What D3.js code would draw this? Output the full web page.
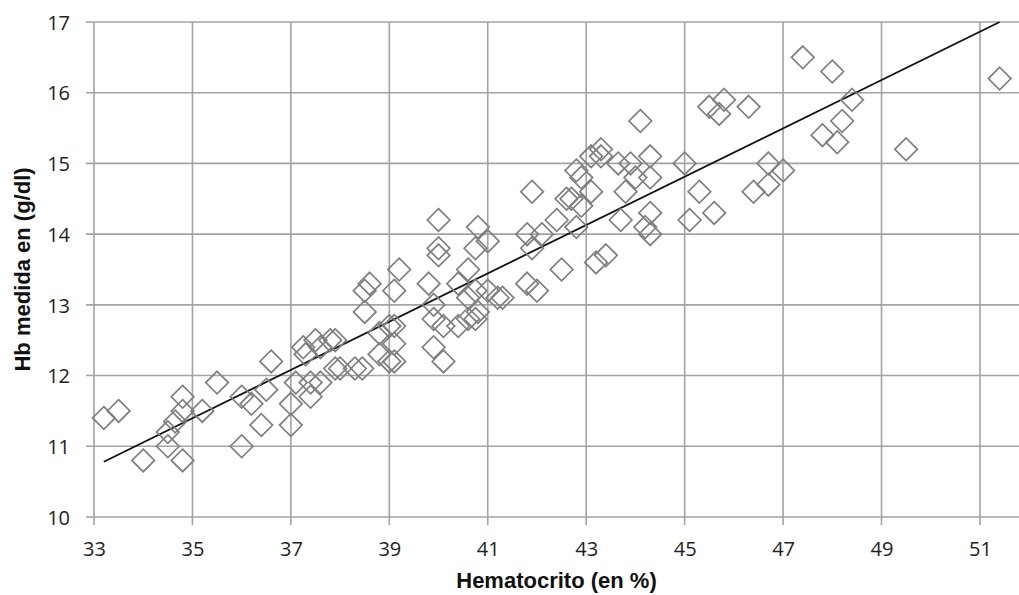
<!DOCTYPE html>
<html>
<head>
<meta charset="utf-8">
<script src="https://cdn.jsdelivr.net/npm/d3@7"></script>
<style>
  body { margin: 0; background: #fff; }
  .tick text { font-family: "Open Sans", sans-serif; font-size: 20px; fill: #222; }
  .aText { font-family: "Liberation Sans", Arial, sans-serif; font-weight: bold; font-size: 22px; fill: #111; }
</style>
</head>
<body>
<div id="scatter"></div>
<script>
// Hematocrito (%) vs Hb medida (g/dl)
var hematocrito = [33.2, 33.5, 34.0, 34.5, 34.5, 34.65, 34.8, 34.8, 34.8, 35.2,
  35.5, 36.0, 36.0, 36.2, 36.4, 36.5, 36.6, 37.0, 37.0, 37.1,
  37.25, 37.4, 37.4, 37.3, 37.5, 37.6, 37.6, 37.8, 37.9, 37.9,
  38.0, 38.3, 38.45, 38.5, 38.5, 38.6, 38.8, 38.8, 39.0, 39.0,
  39.1, 39.1, 39.1, 39.1, 39.2, 39.8, 39.9, 39.9, 39.9, 40.0,
  40.0, 40.0, 40.1, 40.1, 40.4, 40.4, 40.6, 40.6, 40.6, 40.75,
  40.8, 40.75, 40.75, 40.8, 41.0, 41.0, 41.2, 41.3, 41.8, 41.8,
  41.9, 41.9, 42.0, 42.1, 42.4, 42.5, 42.6, 42.7, 42.8, 42.8,
  42.9, 42.9, 43.1, 43.1, 43.3, 43.3, 43.2, 43.4, 43.65, 43.7,
  43.8, 43.9, 44.0, 44.1, 44.2, 44.3, 44.3, 44.3, 44.3, 45.0,
  45.1, 45.3, 45.5, 45.6, 45.7, 45.8, 46.3, 46.4, 46.7, 46.7,
  47.0, 47.4, 47.8, 48.0, 48.1, 48.2, 48.4, 49.5, 51.4];

var hbMedida = [11.4, 11.5, 10.8, 11.0, 11.2, 11.35, 11.7, 11.5, 10.8, 11.5,
  11.9, 11.7, 11.0, 11.6, 11.3, 11.8, 12.2, 11.3, 11.6, 11.9,
  12.4, 11.7, 11.9, 12.3, 12.5, 11.9, 12.4, 12.5, 12.5, 12.1,
  12.1, 12.1, 12.1, 12.9, 13.2, 13.3, 12.6, 12.3, 12.7, 12.2,
  12.2, 12.45, 12.7, 13.2, 13.5, 13.3, 13.0, 12.8, 12.4, 13.8,
  13.7, 14.2, 12.7, 12.2, 12.7, 13.3, 13.5, 13.1, 12.8, 12.8,
  12.9, 13.2, 13.8, 14.1, 13.9, 13.2, 13.1, 13.1, 13.3, 14.0,
  14.6, 13.8, 13.2, 14.0, 14.2, 13.5, 14.5, 14.5, 14.1, 14.9,
  14.8, 14.4, 15.1, 14.6, 15.2, 15.1, 13.6, 13.7, 15.0, 14.2,
  14.6, 15.0, 14.8, 15.6, 14.1, 15.1, 14.8, 14.3, 14.0, 15.0,
  14.2, 14.6, 15.8, 14.3, 15.7, 15.9, 15.8, 14.6, 15.0, 14.7,
  14.9, 16.5, 15.4, 16.3, 15.3, 15.6, 15.9, 15.2, 16.2];

// linear trend line endpoints
var trendX = [33.2, 51.4];
var trendY = [10.78, 17.0];

var xTicks = [33, 35, 37, 39, 41, 43, 45, 47, 49, 51];
var yTicks = [10, 11, 12, 13, 14, 15, 16, 17];

var svgWidth = 1019;
var svgHeight = 595;

var margin = { top: 22, left: 94 };
var pxPerX = 49.22;
var pxPerY = 70.71;

var svg = d3.select("#scatter")
  .append("svg")
  .attr("width", svgWidth)
  .attr("height", svgHeight);

var xScale = d3.scaleLinear()
  .domain([33, 53])
  .range([margin.left, margin.left + 20 * pxPerX]);

var yScale = d3.scaleLinear()
  .domain([10, 17])
  .range([margin.top + 7 * pxPerY, margin.top]);

var x0 = xScale(33), y0 = yScale(10);

// gridlines
svg.append("g").selectAll("line.hgrid")
  .data(yTicks)
  .enter().append("line")
  .attr("x1", x0 - 8).attr("x2", svgWidth)
  .attr("y1", d => yScale(d)).attr("y2", d => yScale(d))
  .attr("stroke", "#a3a3a3").attr("stroke-width", 1.6);

svg.append("g").selectAll("line.vgrid")
  .data(xTicks)
  .enter().append("line")
  .attr("x1", d => xScale(d)).attr("x2", d => xScale(d))
  .attr("y1", yScale(17)).attr("y2", y0 + 8)
  .attr("stroke", "#a3a3a3").attr("stroke-width", 1.6);

// axes (labels only, lines drawn as grid)
var bottomAxis = d3.axisBottom(xScale).tickValues(xTicks).tickFormat(d3.format("d")).tickSize(0).tickPadding(0);
var leftAxis = d3.axisLeft(yScale).tickValues(yTicks).tickFormat(d3.format("d")).tickSize(0).tickPadding(0);

var gx = svg.append("g")
  .attr("transform", `translate(0, ${y0})`)
  .call(bottomAxis);
gx.select(".domain").remove();
gx.selectAll("text").attr("dy", null).attr("y", 39);

var gy = svg.append("g")
  .attr("transform", `translate(70, 0)`)
  .call(leftAxis);
gy.select(".domain").remove();
gy.selectAll("text").attr("dy", "0.36em");

// trend line
svg.append("line")
  .attr("x1", xScale(trendX[0])).attr("y1", yScale(trendY[0]))
  .attr("x2", xScale(trendX[1])).attr("y2", yScale(trendY[1]))
  .attr("stroke", "#111").attr("stroke-width", 1.8);

// diamonds
var r = 11.3;
svg.append("g").selectAll("path")
  .data(hematocrito.map((h, i) => [h, hbMedida[i]]))
  .enter().append("path")
  .attr("d", d => {
    var cx = xScale(d[0]), cy = yScale(d[1]);
    return `M${cx},${cy - r}L${cx + r},${cy}L${cx},${cy + r}L${cx - r},${cy}Z`;
  })
  .attr("fill", "#fff")
  .attr("fill-opacity", 0)
  .attr("stroke", "#7f7f7f")
  .attr("stroke-width", 1.7);

// axis titles
svg.append("text")
  .attr("class", "aText")
  .attr("text-anchor", "middle")
  .attr("x", (x0 + svgWidth) / 2)
  .attr("y", 588)
  .text("Hematocrito (en %)");

svg.append("text")
  .attr("class", "aText")
  .attr("text-anchor", "middle")
  .attr("transform", `translate(30, ${(yScale(10) + yScale(17)) / 2}) rotate(-90)`)
  .text("Hb medida en (g/dl)");
</script>
</body>
</html>
